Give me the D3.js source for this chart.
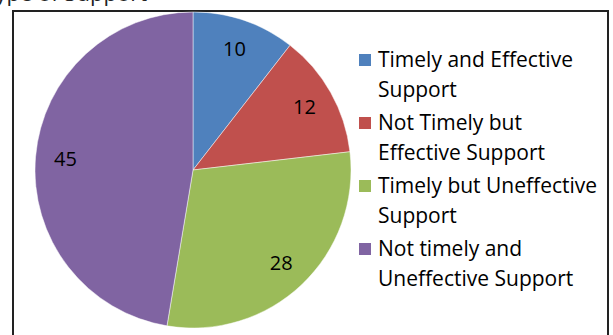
<!DOCTYPE html>
<html><head><meta charset="utf-8">
<script src="https://cdn.jsdelivr.net/npm/d3@7"></script>
<style>
html,body{margin:0;padding:0;background:#fff;}
svg{display:block;}
text{font-family:"Open Sans",Lato,sans-serif;}
</style></head>
<body><svg id="c" width="613" height="335"></svg>
<script>
const title = "Type of Support";
const categories = ["Timely and Effective Support","Not Timely but Effective Support","Timely but Uneffective Support","Not timely and Uneffective Support"];
const legendLines = [["Timely and Effective","Support"],["Not Timely but","Effective Support"],["Timely but Uneffective","Support"],["Not timely and","Uneffective Support"]];
const values = [10,12,28,45];
const colors = ["#4F81BD","#C0504D","#9BBB59","#8064A2"];

const svg = d3.select("#c");
svg.append("text").attr("x",147).attr("y",1).attr("text-anchor","end")
  .attr("font-size",22).attr("fill","#222").text(title);
svg.append("rect").attr("x",13).attr("y",11).attr("width",595).attr("height",340)
  .attr("fill","none").attr("stroke","#222").attr("stroke-width",2);

const cx=193, cy=170, R=158;
const pie = d3.pie().sort(null).value(d=>d);
const arcs = pie(values);
const arc = d3.arc().innerRadius(0).outerRadius(R);
const labelArc = d3.arc().innerRadius(128).outerRadius(128);
const g = svg.append("g").attr("transform",`translate(${cx},${cy})`);
g.selectAll("path").data(arcs).join("path")
  .attr("d",arc).attr("fill",(d,i)=>colors[i])
  .attr("stroke","#fff").attr("stroke-opacity",0.6).attr("stroke-width",0.8);
g.selectAll("text").data(arcs).join("text")
  .attr("transform",d=>`translate(${labelArc.centroid(d)})`)
  .attr("text-anchor","middle").attr("dy","0.35em")
  .attr("font-size",20).attr("fill","#000").text(d=>d.data);

const lg = svg.append("g");
const itemY = [67,130,193,256];
legendLines.forEach((lines,i)=>{
  const y = itemY[i];
  lg.append("rect").attr("x",359).attr("y",y-13).attr("width",12).attr("height",12).attr("fill",colors[i]);
  lines.forEach((t,j)=>{
    lg.append("text").attr("x",378).attr("y",y+j*30).attr("font-size",21).attr("fill","#000").text(t);
  });
});
</script></body></html>
